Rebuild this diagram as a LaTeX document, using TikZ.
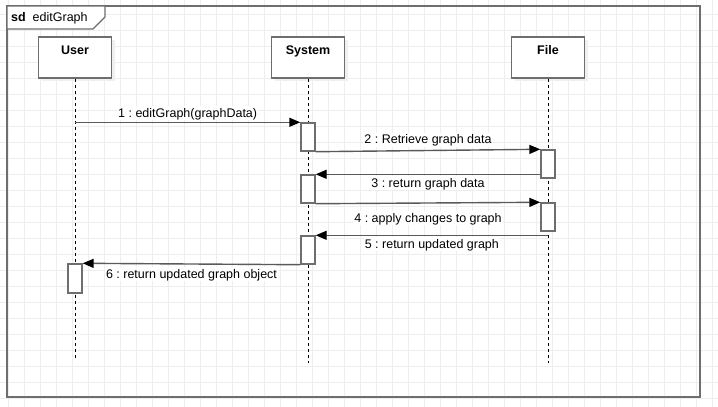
\documentclass[tikz,border=0pt]{standalone}
\usepackage{fontspec}
\setmainfont{Liberation Sans}
\usetikzlibrary{arrows.meta,shadows}
\frenchspacing

\definecolor{framegray}{HTML}{6E6E6E}
\definecolor{gridgray}{HTML}{EEEEEE}
\definecolor{msggray}{HTML}{5A5A5A}

\tikzset{
  gridline/.style={draw=gridgray,line width=1pt},
  sdframe/.style={draw=framegray,line width=1.4pt},
  head/.style={draw=framegray,fill=white,line width=1.4pt,
    minimum width=73pt,minimum height=41pt,inner ysep=0pt,
    text height=9pt,text depth=15pt,font=\fontsize{12.5}{15}\selectfont\bfseries,
    drop shadow={shadow xshift=3pt,shadow yshift=-3pt,fill=black!6,opacity=1}},
  act/.style={draw=framegray,fill=white,line width=1.4pt,
    minimum width=14pt,inner sep=0pt},
  lbl/.style={fill=white,inner sep=1pt,text height=10pt,text depth=2pt}
}

\begin{document}
\begin{tikzpicture}[x=1pt,y=-1pt,font=\fontsize{12.5}{15}\selectfont]

      \useasboundingbox (0,0) rectangle (718,407);

      % background grid
      \foreach \gx in {8,24,...,712} \draw[gridline] (\gx,0) -- (\gx,407);
      \foreach \gy in {14,30,...,398} \draw[gridline] (0,\gy) -- (718,\gy);

      % frame and title tab
      \draw[sdframe] (7,6) rectangle (700,397);
      \draw[sdframe,fill=white] (7,6) -- (105,6) -- (105,17) -- (93,29) -- (7,29) -- cycle;
      \node[anchor=west,inner sep=0pt,text height=9pt,text depth=2pt] (title) at (11,17.5) {\textbf{sd}\ \ editGraph};

      \coordinate (uEnd) at (75,358);
      \coordinate (sEnd) at (308,363);
      \coordinate (fEnd) at (548,363);

      \begin{scope}[every node/.style={head}]
        \node (User)   at (75,57.5)  {User};
        \node (System) at (308,57.5) {System};
        \node (File)   at (548,57.5) {File};
      \end{scope}

      % lifelines
      \begin{scope}[every edge/.style={draw,black,line width=1pt,dash pattern=on 3pt off 3pt}]
        \path (User.south)   edge (uEnd);
        \path (System.south) edge (sEnd);
        \path (File.south)   edge (fEnd);
      \end{scope}

      \begin{scope}[every node/.style={act}]
        \node[minimum height=28pt] (actS1) at (308,137) {};
        \node[minimum height=28pt] (actF1) at (548,164) {};
        \node[minimum height=28pt] (actS2) at (308,189) {};
        \node[minimum height=28pt] (actF2) at (548,217) {};
        \node[minimum height=28pt] (actS3) at (308,250) {};
        \node[minimum height=29pt] (actU1) at (75,278.5) {};
      \end{scope}

      % messages
      \begin{scope}[every edge/.style={draw=msggray,line width=1.4pt,
          -{Triangle[length=11pt,width=9pt,black]}}]
        \path (actS1.north west -| User.south) edge node[lbl,yshift=9pt] {1 : editGraph(graphData)} (actS1.north west);
        \path (actS1.south east) edge node[lbl,yshift=11pt] {2 : Retrieve graph data} (actF1.north west);
        \path (actS2.north east -| actF1.west) edge node[lbl,yshift=-9pt] {3 : return graph data} (actS2.north east);
        \path (actS2.south east) edge node[lbl,yshift=-15pt] {4 : apply changes to graph} (actF2.north west);
        \path (actS3.north east -| fEnd) edge node[lbl,yshift=-9pt] {5 : return updated graph} (actS3.north east);
        \path (actS3.south west) edge node[lbl,yshift=-10pt] {6 : return updated graph object} (actU1.north east);
      \end{scope}

    \end{tikzpicture}
\end{document}
